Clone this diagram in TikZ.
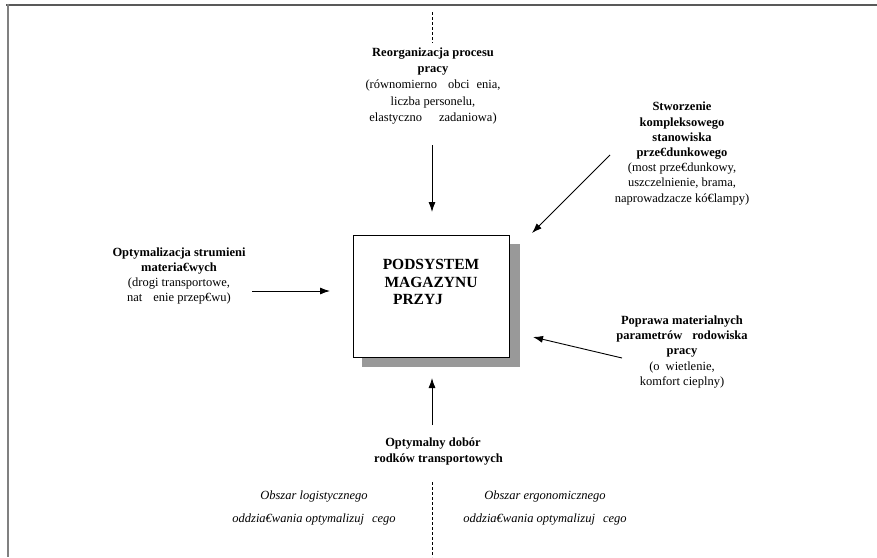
\documentclass[tikz,border=0pt]{standalone}
\usepackage{fontspec}
\setmainfont{Liberation Serif}
\usetikzlibrary{arrows.meta}
\begin{document}
\begin{tikzpicture}[x=1pt,y=-1pt,
  lbl/.style={align=center,inner sep=0pt,font=\fontsize{12.5}{15.2}\selectfont},
  ital/.style={align=center,inner sep=0pt,font=\fontsize{12.5}{23}\selectfont\itshape},
  arr/.style={line width=0.9pt,-{Latex[length=10pt,width=7pt]}},
  dsh/.style={line width=0.9pt,dash pattern=on 3pt off 2pt}]
\useasboundingbox (0,0) rectangle (877,557);
% frame
\draw[line width=2pt,color=black!65] (6,4.5) -- (877,4.5);
\draw[line width=2pt,color=black!50] (7.5,3.5) -- (7.5,557);
% main box with shadow
\fill[black!40] (362,244) rectangle (520,367);
\draw[line width=0.9pt,fill=white] (353,235) rectangle (509,357);
\node[lbl,font=\fontsize{15.5}{17.5}\selectfont\bfseries] (main) at (431,282)
  {PODSYSTEM\\MAGAZYNU\\PRZYJ\hspace*{26pt}};
% labels
\node[lbl,font=\fontsize{12.5}{16.2}\selectfont] (reorg) at (433,86)
  {\textbf{Reorganizacja procesu}\\\textbf{pracy}\\(równomierno\hspace{11pt}obci\hspace{7pt}enia,\\liczba personelu,\\elastyczno\hspace{17pt}zadaniowa)};
\node[lbl] (stw) at (682,153.5)
  {\textbf{Stworzenie}\\\textbf{kompleksowego}\\\textbf{stanowiska}\\\textbf{prze€dunkowego}\\(most prze€dunkowy,\\uszczelnienie, brama,\\naprowadzacze kó€lampy)};
\node[lbl,font=\fontsize{12.5}{14.7}\selectfont] (opt) at (179,276)
  {\textbf{Optymalizacja strumieni}\\\textbf{materia€wych}\\(drogi transportowe,\\nat\hspace{11pt}enie przep€wu)};
\node[lbl] (pop) at (682,352)
  {\textbf{Poprawa materialnych}\\\textbf{parametrów\hspace{10pt}rodowiska}\\\textbf{pracy}\\(o\hspace{6pt}wietlenie,\\komfort cieplny)};
\node[lbl,font=\fontsize{12.5}{16}\selectfont\bfseries] (dob) at (433,451)
  {Optymalny dobór\\\hspace*{11pt}rodków transportowych};
\node[ital] (log) at (314,508.5)
  {Obszar logistycznego\\oddzia€wania optymalizuj\hspace{8pt}cego};
\node[ital] (erg) at (545,508.5)
  {Obszar ergonomicznego\\oddzia€wania optymalizuj\hspace{8pt}cego};
% arrow end points
\coordinate (t1) at (432,145); \coordinate (t2) at (432,212);
\coordinate (d1) at (610,155); \coordinate (d2) at (532,233);
\coordinate (l1) at (252,291); \coordinate (l2) at (330,291);
\coordinate (p1) at (622,358); \coordinate (p2) at (533,337);
\coordinate (b1) at (432,425); \coordinate (b2) at (432,378);
\draw[arr] (t1) -- (t2);
\draw[arr] (d1) -- (d2);
\draw[arr] (l1) -- (l2);
\draw[arr] (p1) -- (p2);
\draw[arr] (b1) -- (b2);
% dashed separators
\coordinate (s1) at (432,12); \coordinate (s2) at (432,43);
\coordinate (s3) at (432,482); \coordinate (s4) at (432,557);
\draw[dsh] (s1) -- (s2);
\draw[dsh] (s3) -- (s4);
\end{tikzpicture}
\end{document}
